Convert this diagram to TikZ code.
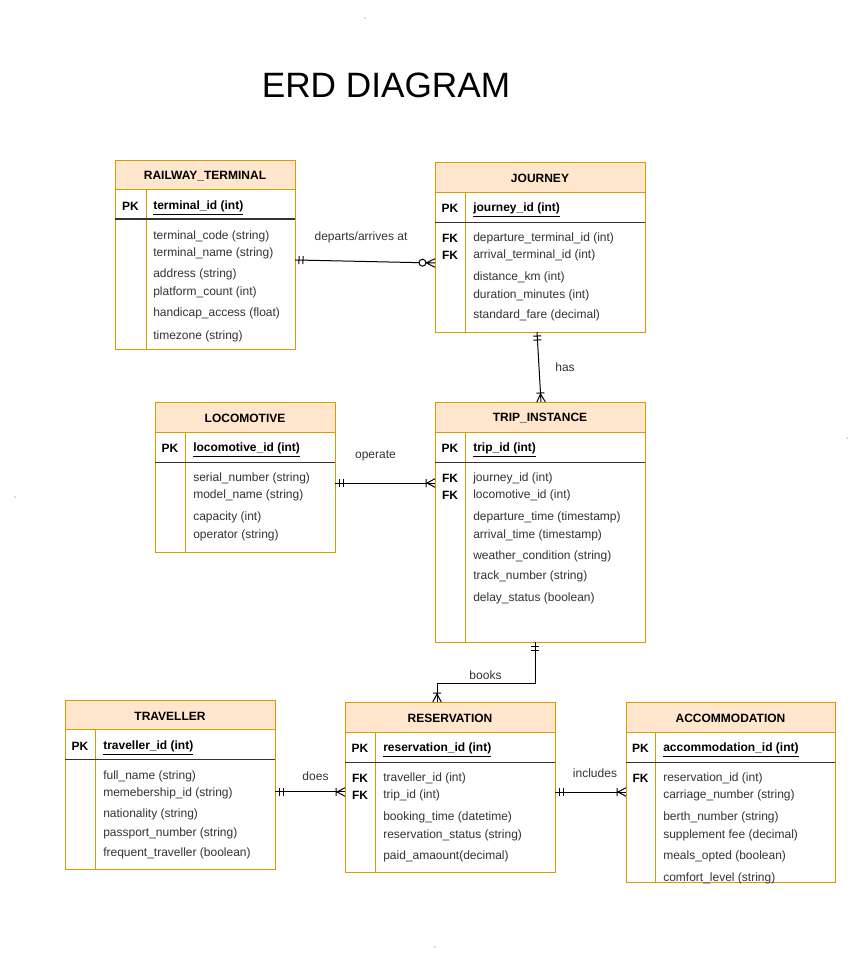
\documentclass[tikz,border=0pt]{standalone}
\usepackage{fontspec}
\setmainfont{Liberation Sans}
\usepackage{tikz}
\usetikzlibrary{arrows.meta,positioning}

\definecolor{tblline}{HTML}{D79B00}
\definecolor{hdrfill}{HTML}{FFE6CC}
\definecolor{txtgray}{HTML}{333333}

\newcommand{\tblfont}{\fontsize{9}{11}\selectfont}

% crow's foot ends
\pgfdeclarearrow{
  name = onlyone,
  parameters = {\the\pgflinewidth},
  setup code = {
    \pgfarrowssettipend{0pt}
    \pgfarrowssetlineend{0pt}
    \pgfarrowssetbackend{-6.5pt}
    \pgfarrowssetvisualbackend{-6.5pt}
    \pgfarrowshullpoint{0pt}{3pt}
    \pgfarrowshullpoint{-6.5pt}{-3pt}
  },
  drawing code = {
    \pgfpathmoveto{\pgfpoint{-3pt}{3pt}}
    \pgfpathlineto{\pgfpoint{-3pt}{-3pt}}
    \pgfpathmoveto{\pgfpoint{-6pt}{3pt}}
    \pgfpathlineto{\pgfpoint{-6pt}{-3pt}}
    \pgfusepathqstroke
  }
}
\pgfdeclarearrow{
  name = onemany,
  parameters = {\the\pgflinewidth},
  setup code = {
    \pgfarrowssettipend{0pt}
    \pgfarrowssetlineend{0pt}
    \pgfarrowssetbackend{-7pt}
    \pgfarrowssetvisualbackend{-7pt}
    \pgfarrowshullpoint{0pt}{3.2pt}
    \pgfarrowshullpoint{-7pt}{-3.2pt}
  },
  drawing code = {
    \pgfpathmoveto{\pgfpoint{0pt}{3.2pt}}
    \pgfpathlineto{\pgfpoint{-6pt}{0pt}}
    \pgfpathlineto{\pgfpoint{0pt}{-3.2pt}}
    \pgfpathmoveto{\pgfpoint{-6.75pt}{3pt}}
    \pgfpathlineto{\pgfpoint{-6.75pt}{-3pt}}
    \pgfusepathqstroke
  }
}
\pgfdeclarearrow{
  name = zeromany,
  parameters = {\the\pgflinewidth},
  setup code = {
    \pgfarrowssettipend{0pt}
    \pgfarrowssetlineend{-12pt}
    \pgfarrowssetbackend{-12pt}
    \pgfarrowssetvisualbackend{-12pt}
    \pgfarrowshullpoint{0pt}{3.2pt}
    \pgfarrowshullpoint{-12pt}{-3.2pt}
  },
  drawing code = {
    \pgfpathcircle{\pgfpoint{-9.4pt}{0pt}}{2.6pt}
    \pgfpathmoveto{\pgfpoint{0pt}{3.2pt}}
    \pgfpathlineto{\pgfpoint{-6.5pt}{0pt}}
    \pgfpathlineto{\pgfpoint{0pt}{-3.2pt}}
    \pgfpathmoveto{\pgfpoint{-6.8pt}{0pt}}
    \pgfpathlineto{\pgfpoint{0pt}{0pt}}
    \pgfusepathqstroke
  }
}

\tikzset{
  entbox/.style={draw=tblline, fill=white, line width=0.75pt, inner sep=0pt,
    outer sep=0pt, anchor=north west},
  hdrbox/.style={draw=tblline, fill=hdrfill, line width=0.75pt},
  colline/.style={draw=tblline, line width=0.75pt},
  keyline/.style={draw=black!80, line width=1pt},
  hdrtext/.style={font=\tblfont\bfseries, inner sep=0pt, yshift=-0.8pt},
  keytext/.style={font=\tblfont\bfseries, inner sep=0pt, yshift=-0.8pt},
  pktext/.style={font=\tblfont\bfseries, anchor=west, inner sep=0pt, yshift=-2pt},
  fieldtext/.style={font=\tblfont, text=txtgray, anchor=west, inner sep=0pt, yshift=-0.8pt},
  rellabel/.style={font=\tblfont, text=txtgray, inner sep=0pt, yshift=-0.8pt},
  rel/.style={draw=black, line width=0.75pt},
  titletext/.style={font=\fontsize{26.4}{30}\selectfont, inner sep=0pt}
}

\begin{document}
\begin{tikzpicture}[x=0.75pt,y=-0.75pt]
\useasboundingbox (0,0) rectangle (860,960);

\node[titletext] (title) at (386,85.5) {ERD DIAGRAM};

% RAILWAY_TERMINAL
\node[entbox, minimum width=135pt, minimum height=141.75pt] (term) at (115,160) {};
\draw[hdrbox] (term.north west) rectangle (295,189);
\draw[colline] (146,189) -- (146,349);
\draw[keyline] (115,219) -- (295,219);
\node[hdrtext] (term-h) at (205,175) {RAILWAY\_TERMINAL};
\node[keytext] (term-pk) at (130.5,205) {PK};
\node[pktext] (term-id) at (153,205) {\underline{terminal\_id (int)}};
\foreach \y/\txt [count=\i] in {235/terminal\_code (string), 252/terminal\_name (string),
  273/address (string), 291/platform\_count (int), 312/handicap\_access (float),
  335/timezone (string)}
  \node[fieldtext] (term-f\i) at (153,\y) {\txt};

% JOURNEY
\node[entbox, minimum width=157.5pt, minimum height=127.5pt] (jny) at (435,162) {};
\draw[hdrbox] (jny.north west) rectangle (645,192);
\draw[colline] (465,192) -- (465,332);
\draw[keyline] (435,222.5) -- (645,222.5);
\node[hdrtext] (jny-h) at (540,177) {JOURNEY};
\node[keytext] (jny-pk) at (450,207) {PK};
\node[pktext] (jny-id) at (473,207) {\underline{journey\_id (int)}};
\node[keytext] (jny-k1) at (450,237) {FK};
\node[keytext] (jny-k2) at (450,254) {FK};
\foreach \y/\txt [count=\i] in {237/departure\_terminal\_id (int), 254/arrival\_terminal\_id (int),
  276/distance\_km (int), 294/duration\_minutes (int), 314/standard\_fare (decimal)}
  \node[fieldtext] (jny-f\i) at (473,\y) {\txt};

% LOCOMOTIVE
\node[entbox, minimum width=135pt, minimum height=112.5pt] (loco) at (155,402) {};
\draw[hdrbox] (loco.north west) rectangle (335,432);
\draw[colline] (185,432) -- (185,552);
\draw[keyline] (155,462.5) -- (335,462.5);
\node[hdrtext] (loco-h) at (245,417) {LOCOMOTIVE};
\node[keytext] (loco-pk) at (170,447) {PK};
\node[pktext] (loco-id) at (193,447) {\underline{locomotive\_id (int)}};
\foreach \y/\txt [count=\i] in {477/serial\_number (string), 494/model\_name (string),
  516/capacity (int), 534/operator (string)}
  \node[fieldtext] (loco-f\i) at (193,\y) {\txt};

% TRIP_INSTANCE
\node[entbox, minimum width=157.5pt, minimum height=180pt] (trip) at (435,402) {};
\draw[hdrbox] (trip.north west) rectangle (645,432);
\draw[colline] (465,432) -- (465,642);
\draw[keyline] (435,462.5) -- (645,462.5);
\node[hdrtext] (trip-h) at (540,417) {TRIP\_INSTANCE};
\node[keytext] (trip-pk) at (450,447) {PK};
\node[pktext] (trip-id) at (473,447) {\underline{trip\_id (int)}};
\node[keytext] (trip-k1) at (450,477) {FK};
\node[keytext] (trip-k2) at (450,494) {FK};
\foreach \y/\txt [count=\i] in {477/journey\_id (int), 494/locomotive\_id (int),
  516/departure\_time (timestamp), 534/arrival\_time (timestamp),
  555/weather\_condition (string), 575/track\_number (string), 597/delay\_status (boolean)}
  \node[fieldtext] (trip-f\i) at (473,\y) {\txt};

% TRAVELLER
\node[entbox, minimum width=157.5pt, minimum height=126.75pt] (trav) at (65,700) {};
\draw[hdrbox] (trav.north west) rectangle (275,729);
\draw[colline] (95,729) -- (95,869);
\draw[keyline] (65,759.5) -- (275,759.5);
\node[hdrtext] (trav-h) at (170,715) {TRAVELLER};
\node[keytext] (trav-pk) at (80,745) {PK};
\node[pktext] (trav-id) at (103,745) {\underline{traveller\_id (int)}};
\foreach \y/\txt [count=\i] in {775/full\_name (string), 792/memebership\_id (string),
  813/nationality (string), 832/passport\_number (string), 852/frequent\_traveller (boolean)}
  \node[fieldtext] (trav-f\i) at (103,\y) {\txt};

% RESERVATION
\node[entbox, minimum width=157.5pt, minimum height=127.5pt] (resv) at (345,702) {};
\draw[hdrbox] (resv.north west) rectangle (555,732);
\draw[colline] (375,732) -- (375,872);
\draw[keyline] (345,762.5) -- (555,762.5);
\node[hdrtext] (resv-h) at (450,717) {RESERVATION};
\node[keytext] (resv-pk) at (360,747) {PK};
\node[pktext] (resv-id) at (383,747) {\underline{reservation\_id (int)}};
\node[keytext] (resv-k1) at (360,777) {FK};
\node[keytext] (resv-k2) at (360,794) {FK};
\foreach \y/\txt [count=\i] in {777/traveller\_id (int), 794/trip\_id (int),
  816/booking\_time (datetime), 834/reservation\_status (string), 855/paid\_amaount(decimal)}
  \node[fieldtext] (resv-f\i) at (383,\y) {\txt};

% ACCOMMODATION
\node[entbox, minimum width=156.75pt, minimum height=135pt] (accom) at (626,702) {};
\draw[hdrbox] (accom.north west) rectangle (835,732);
\draw[colline] (655,732) -- (655,882);
\draw[keyline] (626,762.5) -- (835,762.5);
\node[hdrtext] (accom-h) at (730.5,717) {ACCOMMODATION};
\node[keytext] (accom-pk) at (640.5,747) {PK};
\node[pktext] (accom-id) at (663,747) {\underline{accommodation\_id (int)}};
\node[keytext] (accom-k1) at (640.5,777) {FK};
\foreach \y/\txt [count=\i] in {777/reservation\_id (int), 794/carriage\_number (string),
  816/berth\_number (string), 834/supplement fee (decimal), 855/meals\_opted (boolean),
  877/comfort\_level (string)}
  \node[fieldtext] (accom-f\i) at (663,\y) {\txt};

% relationships
\draw[rel, {onlyone}-{zeromany}] ([yshift=-4.1pt]term.east) -- ([yshift=-12pt]jny.west);
\node[rellabel] (l-dep) at (361,236.5) {departs/arrives at};

\draw[rel, {onlyone}-{onemany}] ([xshift=-2.25pt]jny.south) -- ([xshift=0.75pt]trip.north);
\node[rellabel] (l-has) at (565,366.5) {has};

\coordinate (opL) at ([yshift=-4.5pt]loco.east);
\draw[rel, {onlyone}-{onemany}] (opL) -- (opL -| trip.west);
\node[rellabel] (l-op) at (375.5,455) {operate};

\coordinate (bkT) at ([xshift=-3.75pt]trip.south);
\coordinate (bkB) at ([xshift=-9.75pt]resv.north);
\draw[rel, {onlyone}-{onemany}] (bkT) -- ++(0,41) -| (bkB);
\node[rellabel] (l-bk) at (485.5,674.5) {books};

\coordinate (doL) at ([yshift=-5.6pt]trav.east);
\draw[rel, {onlyone}-{onemany}] (doL) -- (doL -| resv.west);
\node[rellabel] (l-do) at (315.5,775) {does};

\coordinate (inL) at ([yshift=-3.75pt]resv.east);
\draw[rel, {onlyone}-{onemany}] (inL) -- (inL -| accom.west);
\node[rellabel] (l-in) at (595,772.5) {includes};

% stray dots
\foreach \p in {(365,18),(847,438),(15,497),(435,947)}
  \fill[black!60] \p circle[radius=0.45pt];
\end{tikzpicture}
\end{document}
